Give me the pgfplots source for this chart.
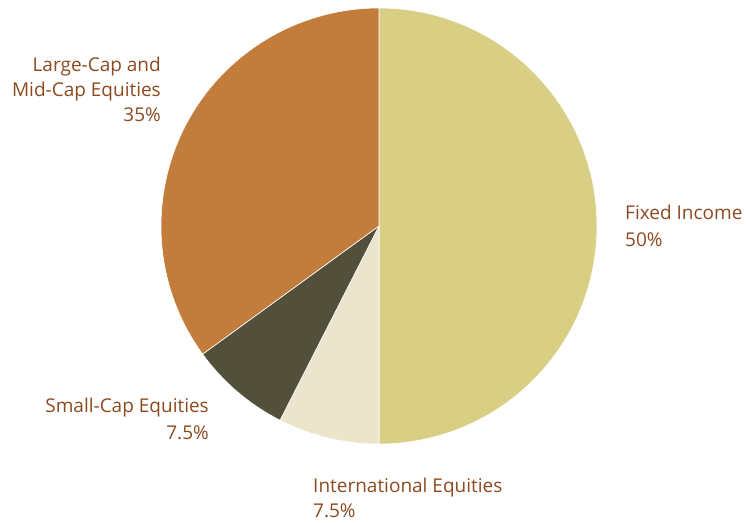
\documentclass[border=0pt]{standalone}
\usepackage{pgfplots}
\pgfplotsset{compat=1.18}
\usepackage{fontspec}
\setmainfont{Open Sans}
\definecolor{cFixed}{HTML}{D8CF85}
\definecolor{cIntl}{HTML}{EAE5CB}
\definecolor{cSmall}{HTML}{524F3B}
\definecolor{cLarge}{HTML}{C27D3D}
\definecolor{cText}{HTML}{8C4A20}
% shares in percent
\def\vFixed{50}
\def\vIntl{7.5}
\def\vSmall{7.5}
\def\vLarge{35}
\begin{document}
\begin{tikzpicture}
\begin{axis}[x=1bp,y=1bp,xmin=0,xmax=746,ymin=0,ymax=523,hide axis,clip=false,
  scale only axis]
\path (axis cs:0,0) (axis cs:746,523);
\pgfmathsetmacro{\aA}{90}
\pgfmathsetmacro{\aB}{\aA-3.6*\vFixed}
\pgfmathsetmacro{\aC}{\aB-3.6*\vIntl}
\pgfmathsetmacro{\aD}{\aC-3.6*\vSmall}
\pgfmathsetmacro{\aE}{\aD-3.6*\vLarge}
\fill[cFixed,draw=white,line width=0.6bp] (axis cs:379,297) -- ++(\aA:218bp) arc[start angle=\aA,end angle=\aB,radius=218bp] -- cycle;
\fill[cIntl,draw=white,line width=0.6bp] (axis cs:379,297) -- ++(\aB:218bp) arc[start angle=\aB,end angle=\aC,radius=218bp] -- cycle;
\fill[cSmall,draw=white,line width=0.6bp] (axis cs:379,297) -- ++(\aC:218bp) arc[start angle=\aC,end angle=\aD,radius=218bp] -- cycle;
\fill[cLarge,draw=white,line width=0.6bp] (axis cs:379,297) -- ++(\aD:218bp) arc[start angle=\aD,end angle=\aE,radius=218bp] -- cycle;
\begin{scope}[every node/.style={text=cText,font=\fontsize{19bp}{22bp}\selectfont,inner sep=0pt}]
\node[anchor=base east] at (axis cs:161,451) {Large-Cap and};
\node[anchor=base east] at (axis cs:161,426) {Mid-Cap Equities};
\node[anchor=base east] at (axis cs:161,401) {35\%};
\node[anchor=base west] at (axis cs:625,303) {Fixed Income};
\node[anchor=base west] at (axis cs:625,276) {50\%};
\node[anchor=base east] at (axis cs:209,110) {Small-Cap Equities};
\node[anchor=base east] at (axis cs:209,83) {7.5\%};
\node[anchor=base west] at (axis cs:313,30) {International Equities};
\node[anchor=base west] at (axis cs:313,5) {7.5\%};
\end{scope}
\end{axis}
\end{tikzpicture}
\end{document}
